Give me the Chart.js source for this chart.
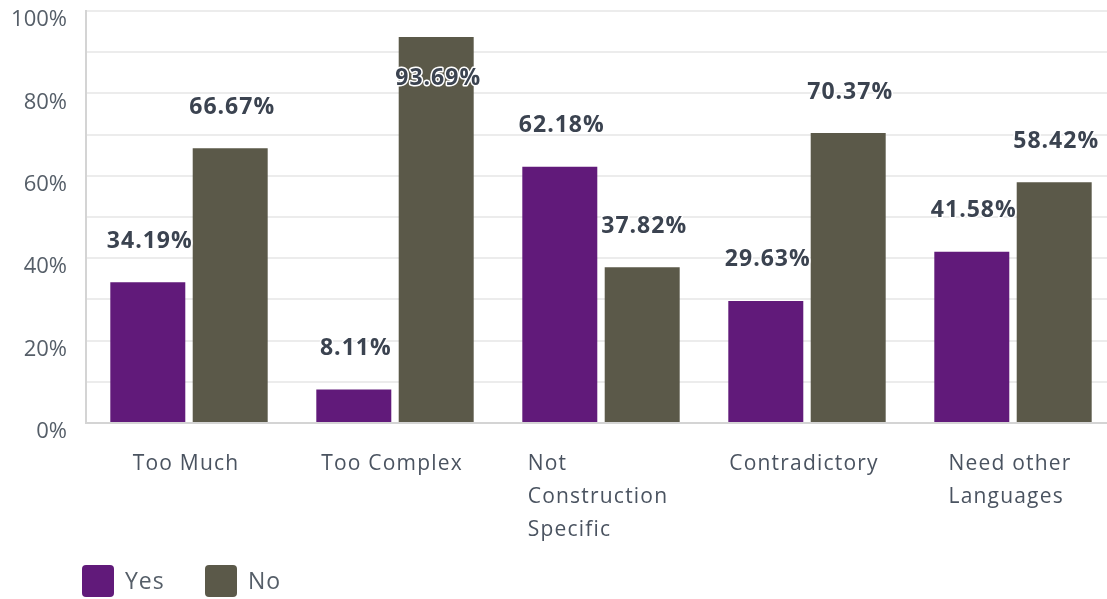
<!DOCTYPE html>
<html>
<head>
<meta charset="utf-8">
<script src="https://cdn.jsdelivr.net/npm/chart.js@4.4.1/dist/chart.umd.min.js"></script>
<style>
  html, body { margin: 0; padding: 0; background: #fff; overflow: hidden; }
  #wrap { width: 1116px; height: 599px; position: relative; }
</style>
</head>
<body>
<div id="wrap"><canvas id="bar-chart"></canvas></div>
<script>
// Chart data
const categories = [
  ["Too Much"],
  ["Too Complex"],
  ["Not", "Construction", "Specific"],
  ["Contradictory"],
  ["Need other", "Languages"]
];
const yesValues = [34.19, 8.11, 62.18, 29.63, 41.58];
const noValues = [66.67, 93.69, 37.82, 70.37, 58.42];
const yTicks = [0, 20, 40, 60, 80, 100];

const FONT = "'Open Sans', sans-serif";

// Draws value labels over bars, x labels (left aligned block) and the legend
const surveyLabels = {
  id: "surveyLabels",
  afterDatasetsDraw(chart) {
    const ctx = chart.ctx;
    const area = chart.chartArea;
    ctx.save();
    ctx.font = "bold 23px " + FONT;
    ctx.letterSpacing = "1px";
    ctx.textAlign = "center";
    ctx.textBaseline = "middle";
    ctx.strokeStyle = "#ffffff";
    ctx.lineWidth = 3;
    ctx.lineJoin = "round";
    chart.data.datasets.forEach((ds, i) => {
      chart.getDatasetMeta(i).data.forEach((bar, j) => {
        let y = bar.y - 41;
        if (y - 12 < area.top) y = bar.y + 41;
        const txt = ds.data[j].toFixed(2) + "%";
        ctx.strokeText(txt, bar.x + 2, y);
        ctx.fillStyle = "#3b4350";
        ctx.fillText(txt, bar.x + 2, y);
      });
    });

    // category labels
    const xScale = chart.scales.x;
    ctx.font = "21px " + FONT;
    ctx.letterSpacing = "1.2px";
    ctx.fillStyle = "#4a5360";
    ctx.textAlign = "left";
    categories.forEach((lines, j) => {
      const cx = xScale.getPixelForValue(j);
      const w = Math.max(...lines.map((l) => ctx.measureText(l).width));
      lines.forEach((l, k) => {
        ctx.fillText(l, cx - w / 2 - 3, area.bottom + 41 + k * 33);
      });
    });

    // legend
    ctx.font = "23px " + FONT;
    ctx.letterSpacing = "1px";
    let lx = 82;
    chart.data.datasets.forEach((ds) => {
      ctx.fillStyle = ds.backgroundColor;
      ctx.beginPath();
      ctx.roundRect(lx, 565, 32, 32, 4);
      ctx.fill();
      ctx.fillStyle = "#555e68";
      ctx.fillText(ds.label, lx + 43, 582);
      lx += 123;
    });
    ctx.restore();
  }
};

const ctx = document.getElementById("bar-chart").getContext("2d");
const myBarChart = new Chart(ctx, {
  type: "bar",
  data: {
    labels: categories.map((c) => c.join(" ")),
    datasets: [
      {
        label: "Yes",
        backgroundColor: "#611a7a",
        data: yesValues
      },
      {
        label: "No",
        backgroundColor: "#5b5949",
        data: noValues
      }
    ]
  },
  options: {
    responsive: true,
    maintainAspectRatio: false,
    animation: false,
    categoryPercentage: 0.8,
    barPercentage: 0.91,
    layout: {
      padding: { top: 11, right: 0, bottom: 176, left: 0 }
    },
    scales: {
      x: {
        grid: { display: false, drawTicks: false },
        border: { color: "#d4d4d4", width: 2 },
        ticks: { display: false }
      },
      y: {
        min: 0,
        max: 100,
        afterFit: (scale) => {
          scale.width = 86;
          scale.paddingTop = 0;
          scale.paddingBottom = 0;
        },
        border: { color: "#d4d4d4", width: 2 },
        grid: { color: "#ececec", lineWidth: 2, drawTicks: false },
        ticks: {
          stepSize: 10,
          padding: 19,
          labelOffset: 9,
          color: "#555e68",
          font: { size: 22, family: FONT },
          callback: (v) => (yTicks.includes(v) ? v + "%" : "")
        }
      }
    },
    plugins: {
      legend: { display: false },
      tooltip: { enabled: false }
    }
  },
  plugins: [surveyLabels]
});
</script>
</body>
</html>
